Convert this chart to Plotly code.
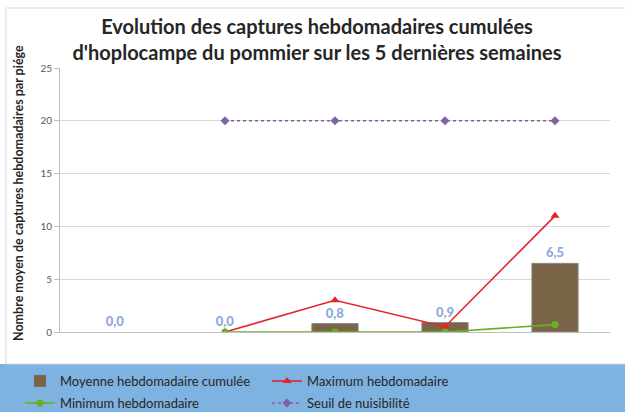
import plotly.graph_objects as go

# ---- data ----
weeks = ["S1", "S2", "S3", "S4", "S5"]
moyenne = [0.0, 0.0, 0.8, 0.9, 6.5]
maximum = [None, 0, 3, 0.5, 11]
minimum = [None, 0, 0, 0, 0.7]
seuil = [None, 20, 20, 20, 20]
y_ticks = [0, 5, 10, 15, 20, 25]

W, H = 625, 412
ML, MR, MT, MB = 60, 15, 68, 80
PW, PH = W - ML - MR, H - MT - MB

def px_x(x):
    return (x - ML) / PW

def px_y(y):
    return (H - MB - y) / PH

FONT = "Lato"
labels = [f"{v:.1f}".replace(".", ",") for v in moyenne]
bar_line_w = [0 if v == 0 else 1 for v in moyenne]

fig = go.Figure()
fig.add_trace(go.Bar(
    x=weeks, y=moyenne, name="Moyenne hebdomadaire cumulée",
    marker=dict(color="#7A6548", line=dict(color="#8A8A8A", width=bar_line_w)),
    width=0.42, text=labels, textposition="outside",
    textfont=dict(color="#8EAADB", size=13, family=FONT + " Black"),
    cliponaxis=False, legend="legend",
))
fig.add_trace(go.Scatter(
    x=weeks, y=maximum, name="Maximum hebdomadaire", mode="lines+markers",
    line=dict(color="#E3242B", width=1.6),
    marker=dict(symbol="triangle-up", size=8, color="#E3242B"),
    legend="legend",
))
fig.add_trace(go.Scatter(
    x=weeks, y=minimum, name="Minimum hebdomadaire", mode="lines+markers",
    line=dict(color="#6AB023", width=1.6),
    marker=dict(symbol="circle", size=7, color="#6AB023"),
    legend="legend2",
))
fig.add_trace(go.Scatter(
    x=weeks, y=seuil, name="Seuil de nuisibilité", mode="lines+markers",
    line=dict(color="#8064A2", width=1.5, dash="dot"),
    marker=dict(symbol="diamond", size=7, color="#8064A2"),
    legend="legend2",
))

legend_common = dict(
    orientation="h", xref="container", yref="container",
    x=20 / W, xanchor="left", yanchor="top",
    entrywidth=202, entrywidthmode="pixels", bgcolor="rgba(0,0,0,0)",
    font=dict(size=13, color="#262626", family=FONT), itemwidth=30,
)

fig.update_layout(
    width=W, height=H,
    margin=dict(l=ML, r=MR, t=MT, b=MB, autoexpand=False),
    paper_bgcolor="white", plot_bgcolor="white",
    font=dict(family=FONT, color="#404040"),
    title=dict(
        text="<b>Evolution des captures hebdomadaires cumulées<br>d'hoplocampe du pommier sur les 5 dernières semaines</b>",
        x=317 / W, xanchor="center", y=1 - 34 / H, yanchor="middle",
        font=dict(size=20, color="#262626", family=FONT),
    ),
    xaxis=dict(
        range=[-0.5, 4.5], showticklabels=False, showgrid=False,
        showline=True, linecolor="#BFBFBF", ticks="", zeroline=False,
    ),
    yaxis=dict(
        range=[0, 25], tickvals=y_ticks, showgrid=True, gridcolor="#D9D9D9",
        showline=True, linecolor="#BFBFBF", ticks="outside", ticklen=5,
        tickcolor="#BFBFBF", tickfont=dict(size=10, color="#595959"),
        zeroline=False,
    ),
    showlegend=True,
    legend=dict(legend_common, y=1 - 366 / H),
    legend2=dict(legend_common, y=1 - 388 / H),
    bargap=0.58,
)

# blue legend band
fig.add_shape(type="rect", xref="paper", yref="paper",
              x0=px_x(0), x1=px_x(W), y0=px_y(H), y1=px_y(364),
              fillcolor="#7EB2E0", line=dict(width=0), layer="below")
# light chart border
fig.add_shape(type="rect", xref="paper", yref="paper",
              x0=px_x(6), x1=px_x(W + 5), y0=px_y(364), y1=px_y(8),
              fillcolor="rgba(0,0,0,0)", line=dict(color="#D9D9D9", width=1),
              layer="below")

fig.add_annotation(
    text="<b>Nombre moyen de captures hebdomadaires par piége</b>",
    textangle=-90, xref="paper", yref="paper",
    x=px_x(18), y=px_y(193), xanchor="center", yanchor="middle",
    showarrow=False, font=dict(size=12.5, color="#262626", family=FONT),
)

fig.write_html(
    "out.html",
    config={"displayModeBar": False},
    post_script="document.body.style.margin='0';document.body.style.overflow='hidden';",
)
